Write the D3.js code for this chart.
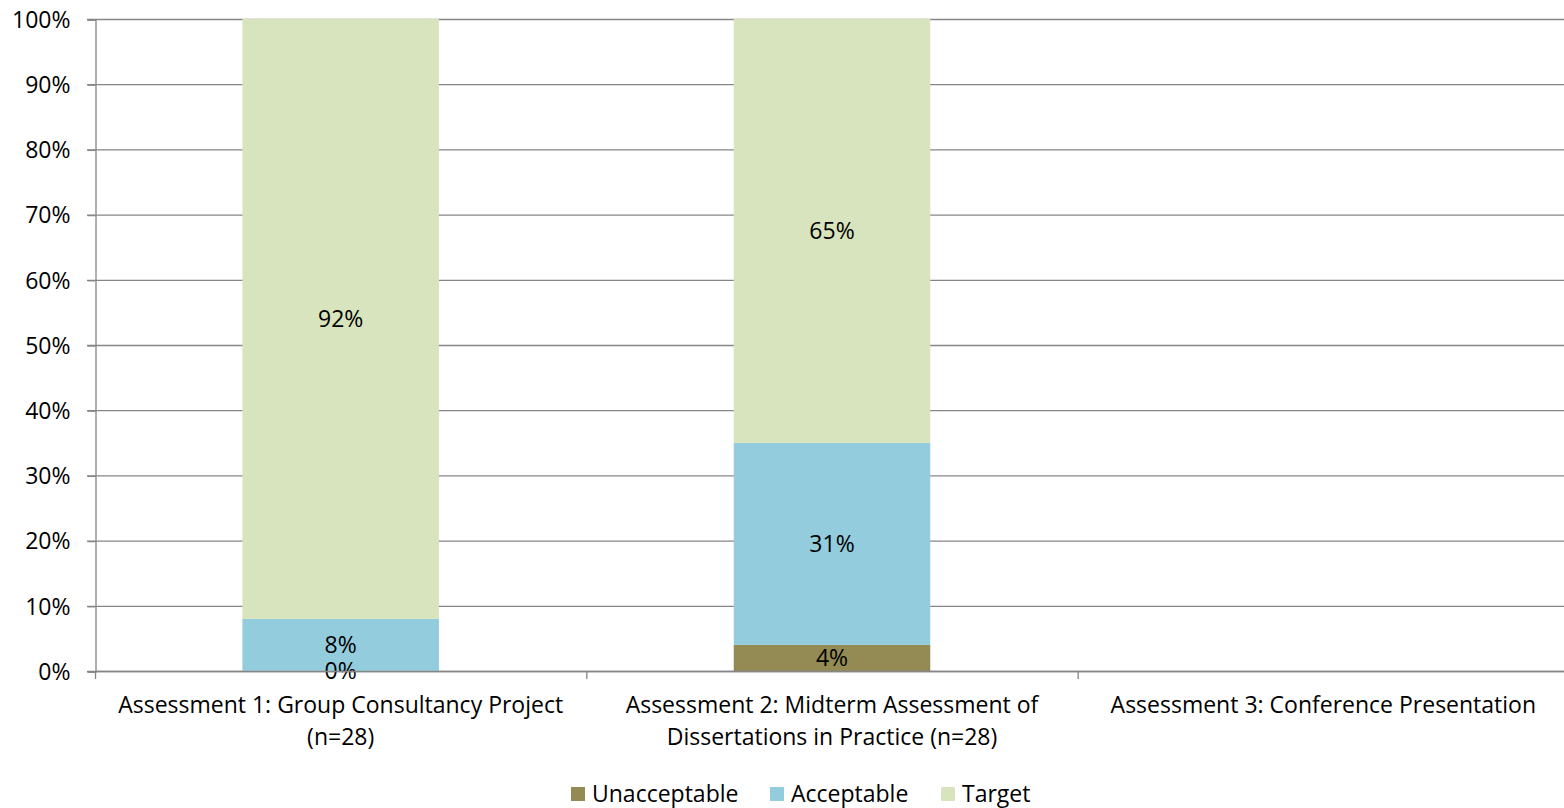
<!DOCTYPE html>
<html>
<head>
<meta charset="utf-8">
<script src="https://cdn.jsdelivr.net/npm/d3@7"></script>
<style>
  html, body { margin: 0; padding: 0; background: #fff; }
  svg { display: block; }
  text { font-family: "Open Sans", sans-serif; fill: #000; }
</style>
</head>
<body>
<svg id="chart" width="1564" height="808"></svg>
<script>
const categories = [
  ["Assessment 1: Group Consultancy Project", "(n=28)"],
  ["Assessment 2: Midterm Assessment of", "Dissertations in Practice (n=28)"],
  ["Assessment 3: Conference Presentation"]
];
const seriesNames = ["Unacceptable", "Acceptable", "Target"];
const unacceptable = [0, 4, null];
const acceptable = [8, 31, null];
const target = [92, 65, null];
const yTicks = [0, 10, 20, 30, 40, 50, 60, 70, 80, 90, 100];
const colors = ["#948A54", "#93CDDD", "#D7E4BD"];

const FONT = "'Open Sans', sans-serif";
const FS = "23px";
const svg = d3.select("#chart");
const margin = { left: 95, top: 19, right: -5, bottom: 137 };
const W = 1564, H = 808;
const x0 = margin.left, x1 = W - margin.right;
const yTop = margin.top, yBot = H - margin.bottom;

const x = d3.scaleBand().domain(d3.range(categories.length)).range([x0, x1]).padding(0);
const y = d3.scaleLinear().domain([0, 100]).range([yBot, yTop]);
const barW = x.bandwidth() * 0.4;

// gridlines
svg.append("g").selectAll("line").data(yTicks).join("line")
  .attr("x1", x0 - 8).attr("x2", x1)
  .attr("y1", d => y(d) + 0.5).attr("y2", d => y(d) + 0.5)
  .attr("stroke", "#868686").attr("stroke-width", 1.3);

// y axis
const yAxis = d3.axisLeft(y).tickValues(yTicks).tickFormat(d => d + "%").tickSize(8).tickPadding(17);
const gy = svg.append("g").attr("transform", `translate(${x0 + 0.5},0.5)`).call(yAxis);
gy.select(".domain").attr("stroke", "#868686").attr("stroke-width", 1.3);
gy.selectAll(".tick line").attr("stroke", "#868686").attr("stroke-width", 1.3);
gy.selectAll(".tick text").style("font-size", FS).style("font-family", FONT).attr("fill", "#000").attr("dy", "0.34em");

// stacked data
const rows = categories.map((c, i) => ({ i, Unacceptable: unacceptable[i], Acceptable: acceptable[i], Target: target[i] }));
const stack = d3.stack().keys(seriesNames).value((d, k) => d[k] == null ? 0 : d[k]);
const stacked = stack(rows);

stacked.forEach((layer, li) => {
  const g = svg.append("g");
  const valid = layer.filter(d => d.data[layer.key] != null);
  g.selectAll("rect").data(valid).join("rect")
    .attr("x", d => x(d.data.i) + (x.bandwidth() - barW) / 2)
    .attr("width", barW)
    .attr("y", d => y(d[1]))
    .attr("height", d => y(d[0]) - y(d[1]))
    .attr("fill", colors[li]);
});
stacked.forEach((layer, li) => {
  const valid = layer.filter(d => d.data[layer.key] != null);
  svg.append("g").selectAll("text").data(valid).join("text")
    .attr("x", d => x(d.data.i) + x.bandwidth() / 2)
    .attr("y", d => y((d[0] + d[1]) / 2))
    .attr("dy", "0.34em")
    .attr("text-anchor", "middle")
    .style("font-size", FS)
    .text(d => d.data[layer.key] + "%");
});

// x axis line + ticks
svg.append("line").attr("x1", x0).attr("x2", x1).attr("y1", yBot + 0.5).attr("y2", yBot + 0.5)
  .attr("stroke", "#868686").attr("stroke-width", 1.3);
const bounds = d3.range(categories.length + 1).map(i => i < categories.length ? x(i) : x1);
svg.append("g").selectAll("line").data(bounds).join("line")
  .attr("x1", d => d + 0.5).attr("x2", d => d + 0.5)
  .attr("y1", yBot).attr("y2", yBot + 8)
  .attr("stroke", "#868686").attr("stroke-width", 1.3);

// category labels
categories.forEach((lines, i) => {
  const t = svg.append("text")
    .attr("x", x(i) + x.bandwidth() / 2)
    .attr("y", 713)
    .attr("text-anchor", "middle")
    .style("font-size", FS);
  lines.forEach((l, j) => {
    t.append("tspan").attr("x", x(i) + x.bandwidth() / 2).attr("dy", j === 0 ? 0 : 32).text(l);
  });
});

// legend
const legendX = [571, 770, 941];
const lg = svg.append("g");
seriesNames.forEach((s, i) => {
  lg.append("rect").attr("x", legendX[i]).attr("y", 787).attr("width", 14).attr("height", 14).attr("fill", colors[i]);
  lg.append("text").attr("x", legendX[i] + 21).attr("y", 802).style("font-size", FS).text(s);
});
</script>
</body>
</html>
